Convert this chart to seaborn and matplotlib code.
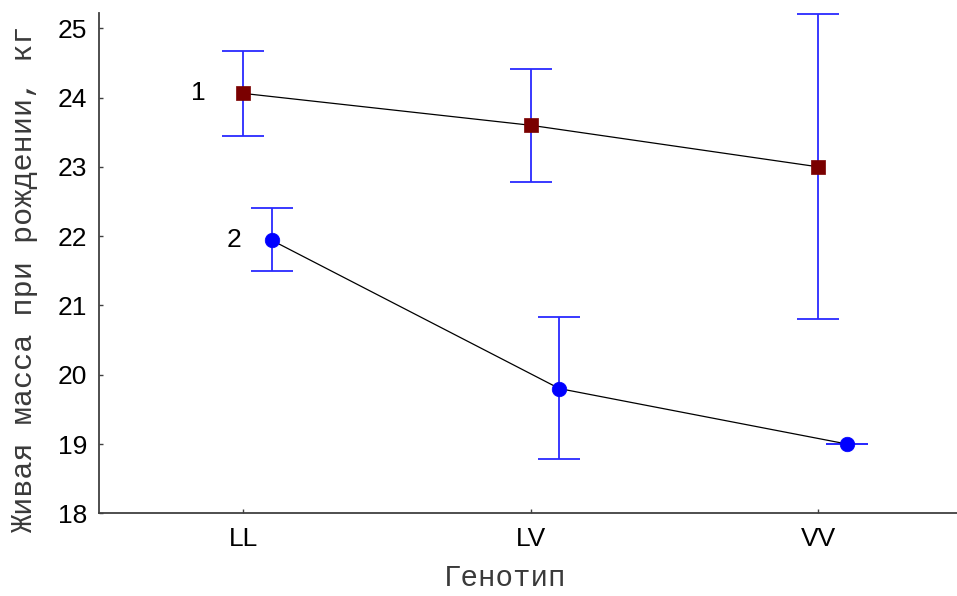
import matplotlib
matplotlib.use("Agg")
import matplotlib.pyplot as plt
import seaborn as sns
import numpy as np
import pandas as pd

genotypes = ["LL", "LV", "VV"]
s1_mean = [24.06, 23.60, 23.00]
s1_low = [23.44, 22.78, 20.80]
s1_high = [24.67, 24.41, 25.21]
s2_mean = [21.94, 19.80, 19.00]
s2_low = [21.50, 18.78, 19.00]
s2_high = [22.41, 20.83, 19.00]
series_labels = ["1", "2"]
y_ticks = [18, 19, 20, 21, 22, 23, 24, 25]

sns.set_theme(style="white")
plt.rcParams['font.family'] = ['Liberation Sans', 'DejaVu Sans']

fig = plt.figure(figsize=(9.57, 5.96), dpi=100)
ax = fig.add_axes([99/957, (596-513.3)/596, (957-99)/957, (513.3-13)/596])

pos = np.arange(len(genotypes))
offsets = [0.0, 0.1]
means = [s1_mean, s2_mean]
lows = [s1_low, s2_low]
highs = [s1_high, s2_high]
markers = ["s", "o"]
mcolors = ["#7a0000", "#0000ff"]

rows = []
for k in range(2):
    for i, g in enumerate(genotypes):
        rows.append({"x": pos[i] + offsets[k], "y": means[k][i], "series": series_labels[k],
                     "lo": lows[k][i], "hi": highs[k][i]})
df = pd.DataFrame(rows)

for k, lab in enumerate(series_labels):
    d = df[df.series == lab]
    sns.lineplot(data=d, x="x", y="y", ax=ax, color="black", lw=0.9, zorder=3, legend=False)
    ax.errorbar(d.x, d.y, yerr=[d.y - d.lo, d.hi - d.y], fmt="none", ecolor="#2a2aff",
                elinewidth=1.3, capsize=15, capthick=1.3, zorder=2)
    sns.scatterplot(data=d, x="x", y="y", ax=ax, marker=markers[k], color=mcolors[k],
                    s=100 if k == 0 else 110, edgecolor=mcolors[k], linewidth=0.5, zorder=4, legend=False)
    first = d.iloc[0]
    ax.annotate(lab, (first.x, first.y), xytext=(-32 if k == 0 else -27, 0),
                textcoords="offset points", ha="center", va="center", fontsize=19, color="black")

ax.set_xlim(-0.501, 2.483)
ax.set_ylim(18, 25.22)
ax.set_xticks(pos)
ax.set_xticklabels(genotypes)
ax.set_yticks(y_ticks)
ax.tick_params(axis="both", direction="in", length=3, width=1, labelsize=19, colors="#404040",
               labelcolor="black", bottom=True, left=True)
ax.tick_params(axis="y", pad=8.5)
ax.tick_params(axis="x", pad=10)
for s in ["top", "right"]:
    ax.spines[s].set_visible(False)
for s in ["left", "bottom"]:
    ax.spines[s].set_color("#404040")
    ax.spines[s].set_linewidth(1.3)

mono = ['Liberation Mono', 'DejaVu Sans Mono']
ax.set_xlabel("Генотип", fontsize=21, family=mono, color="#3a3a3a")
ax.set_ylabel("Живая масса при рождении, кг", fontsize=21.8, family=mono, color="#3a3a3a")
ax.xaxis.label.set_va("baseline")
ax.yaxis.label.set_va("baseline")
ax.xaxis.set_label_coords((505 - 99) / 858, -(586 - 513.3) / 500.3)
ax.yaxis.set_label_coords(-(99 - 32) / 858, (513.3 - 279) / 500.3)

fig.savefig("out.png", dpi=100)
